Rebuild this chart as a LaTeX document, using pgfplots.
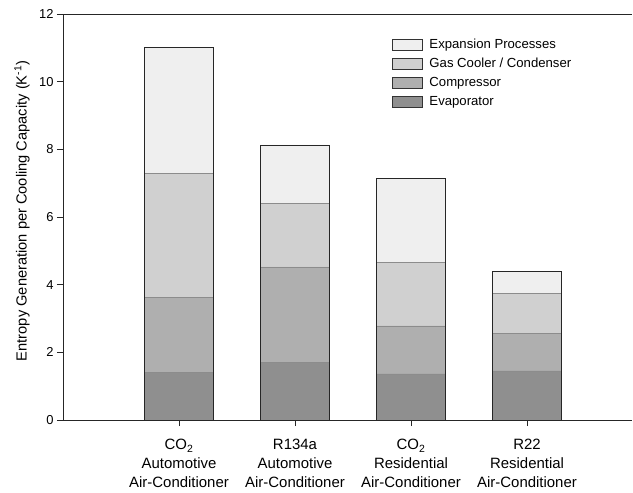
\documentclass[border=0pt]{standalone}
\usepackage{fontspec}
\setmainfont{Liberation Sans}
\usepackage{pgfplots}
\pgfplotsset{compat=1.18}

\definecolor{cexp}{HTML}{EFEFEF}
\definecolor{cgas}{HTML}{D0D0D0}
\definecolor{ccomp}{HTML}{AFAFAF}
\definecolor{cevap}{HTML}{8F8F8F}

\pgfplotsset{
  base/.style={
    scale only axis, width=569bp, height=406bp,
    xmin=0, xmax=4.905, ymin=0, ymax=12,
    ybar stacked, bar width=0.595,
    xtick={1,2,3,4},
  },
  legbox/.style={legend image code/.code={\draw[##1,draw=black!80] (0bp,-5.5bp) rectangle (30bp,5.5bp); \path (35bp,0bp);}},
}

\begin{document}
\begin{tikzpicture}
\begin{axis}[base,
  axis x line=box, axis y line=left,
  axis line style={-, black!85, line width=0.8bp},
  xtick pos=bottom, ytick pos=left,
  tick align=outside, major tick length=6bp,
  tick style={black!85, line width=0.8bp},
  ytick={0,2,...,12},
  /pgf/number format/assume math mode=true,
  yticklabel style={font=\fontsize{13}{15}\selectfont},
  xticklabels={{CO\textsubscript{2}\\Automotive\\Air-Conditioner},
               {R134a\\Automotive\\Air-Conditioner},
               {CO\textsubscript{2}\\Residential\\Air-Conditioner},
               {R22\\Residential\\Air-Conditioner}},
  xticklabel style={align=center, font=\fontsize{15}{19}\selectfont, yshift=-10bp},
  ylabel={Entropy Generation per Cooling Capacity (K\textsuperscript{-1})},
  ylabel style={at={(axis description cs:-0.072,0.515)}, anchor=center, font=\fontsize{14.7}{17}\selectfont},
  reverse legend,
  legend cell align=left,
  legend style={at={(axis description cs:0.578,0.941)}, anchor=north west,
    draw=none, fill=none, font=\fontsize{13.2}{15}\selectfont,
    row sep=6bp, inner sep=0pt,
    nodes={inner ysep=0pt, text height=10bp, text depth=3bp}},
  clip=false,
]
\addplot[fill=cevap, draw=black!45, legbox] coordinates {(1,1.41) (2,1.70) (3,1.36) (4,1.45)};
\addlegendentry{Evaporator}
\addplot[fill=ccomp, draw=black!45, legbox] coordinates {(1,2.22) (2,2.83) (3,1.42) (4,1.11)};
\addlegendentry{Compressor}
\addplot[fill=cgas, draw=black!45, legbox] coordinates {(1,3.67) (2,1.88) (3,1.88) (4,1.18)};
\addlegendentry{Gas Cooler / Condenser}
\addplot[fill=cexp, draw=black!45, legbox] coordinates {(1,3.72) (2,1.72) (3,2.49) (4,0.65)};
\addlegendentry{Expansion Processes}
\path (rel axis cs:0,0) +(-63bp,-73bp) (rel axis cs:1,1) +(1bp,14bp);
\end{axis}
\begin{axis}[base, hide axis, clip=false]
\addplot[fill=none, draw=black!85, line width=0.8bp] coordinates {(1,11.02) (2,8.13) (3,7.15) (4,4.39)};
\end{axis}
\end{tikzpicture}
\end{document}
